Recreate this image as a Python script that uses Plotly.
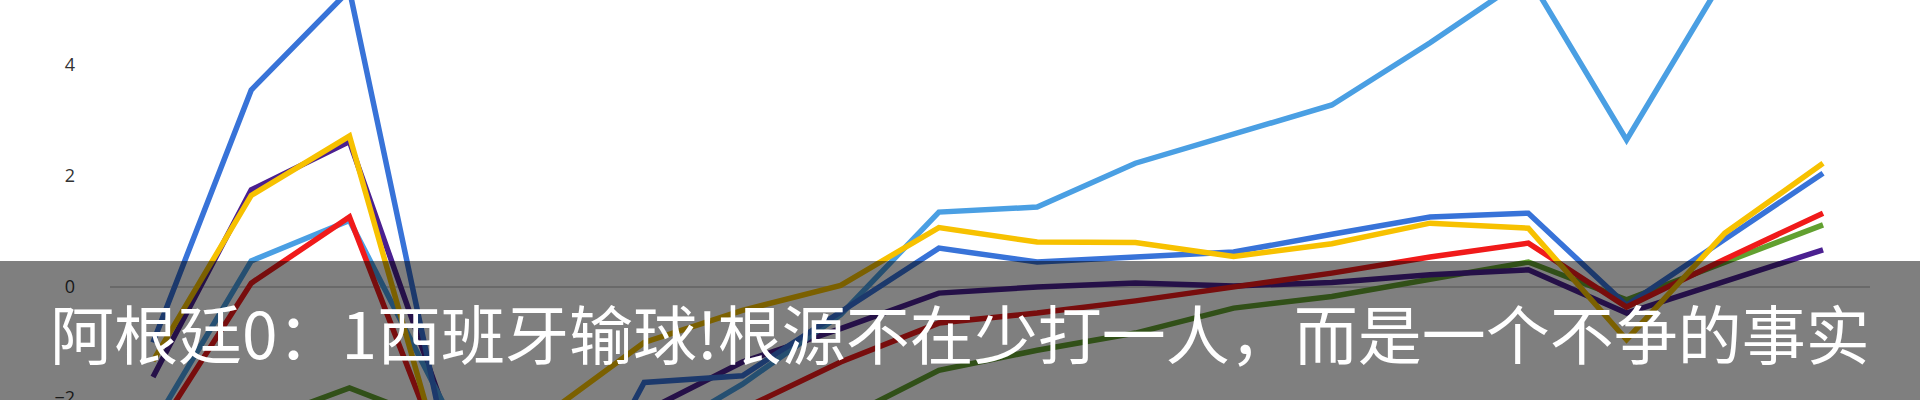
import plotly.graph_objects as go

rounds = list(range(1, 19))

dark_blue = [-1.0, 3.55, 5.35, -3.0, -5.0, -1.72, -1.6, -0.45, 0.7, 0.45, 0.54, 0.63, 0.95, 1.26, 1.33, -0.33, 0.86, 2.05]
light_blue = [-2.5, 0.47, 1.2, -2.25, -3.0, -2.8, -1.75, -0.5, 1.35, 1.44, 2.23, 2.75, 3.28, 4.4, 5.6, 2.65, 5.6, 6.0]
yellow = [-1.33, 1.65, 2.72, -3.5, -2.3, -1.0, -0.42, 0.03, 1.07, 0.81, 0.8, 0.55, 0.78, 1.15, 1.06, -0.95, 0.97, 2.23]
purple = [-1.62, 1.75, 2.62, -2.4, -2.9, -2.25, -1.35, -0.75, -0.11, 0.0, 0.07, 0.02, 0.08, 0.22, 0.31, -0.47, 0.1, 0.67]
red = [-2.7, 0.07, 1.26, -3.3, -3.6, -3.0, -2.2, -1.35, -0.65, -0.47, -0.25, 0.0, 0.25, 0.54, 0.79, -0.36, 0.5, 1.33]
green = [-3.0, -2.47, -1.82, -2.5, -3.0, -3.2, -2.9, -2.4, -1.5, -1.14, -0.83, -0.38, -0.17, 0.13, 0.45, -0.23, 0.45, 1.12]

y_ticks = [-2, 0, 2, 4]
caption = "阿根廷0：1西班牙输球!根源不在少打一人，而是一个不争的事实"

series = [
    (green, "#62a030"),
    (purple, "#4b2090"),
    (light_blue, "#4a9fe3"),
    (dark_blue, "#3873d8"),
    (red, "#f01a1a"),
    (yellow, "#f7c100"),
]

fig = go.Figure()
for vals, col in series:
    fig.add_trace(go.Scatter(x=rounds, y=vals, mode="lines",
                             line=dict(color=col, width=5.5),
                             showlegend=False, hoverinfo="skip"))

W, H = 1920, 400
ml, mr = 110, 50
pw = W - ml - mr

fig.update_layout(
    width=W, height=H,
    margin=dict(l=ml, r=mr, t=0, b=0),
    paper_bgcolor="white", plot_bgcolor="white",
    xaxis=dict(visible=False, range=[0.5623, 18.478]),
    yaxis=dict(range=[-2.036, 5.171], tickvals=y_ticks, showgrid=False,
               zeroline=True, zerolinecolor="#d2d2d2", zerolinewidth=1.5,
               showline=False, ticks="", ticklabelstandoff=34,
               ticklabeloverflow="allow", automargin=False,
               tickfont=dict(family="Open Sans", size=18, color="#333333")),
    shapes=[dict(type="rect", xref="paper", yref="paper",
                 x0=-ml / pw, x1=1 + mr / pw, y0=-0.01, y1=1 - 261 / H,
                 fillcolor="rgba(0,0,0,0.5)", line=dict(width=0), layer="above")],
    annotations=[dict(text=caption, xref="paper", yref="paper",
                      x=(960 - ml) / pw, y=1 - 331 / H, xanchor="center", yanchor="middle",
                      showarrow=False,
                      font=dict(family="Noto Sans CJK SC", size=64, color="white"))],
)

post = (
    "document.body.style.margin='0';"
    "document.body.style.overflow='hidden';"
)
fig.write_html("out.html", config={"displayModeBar": False}, post_script=post)
